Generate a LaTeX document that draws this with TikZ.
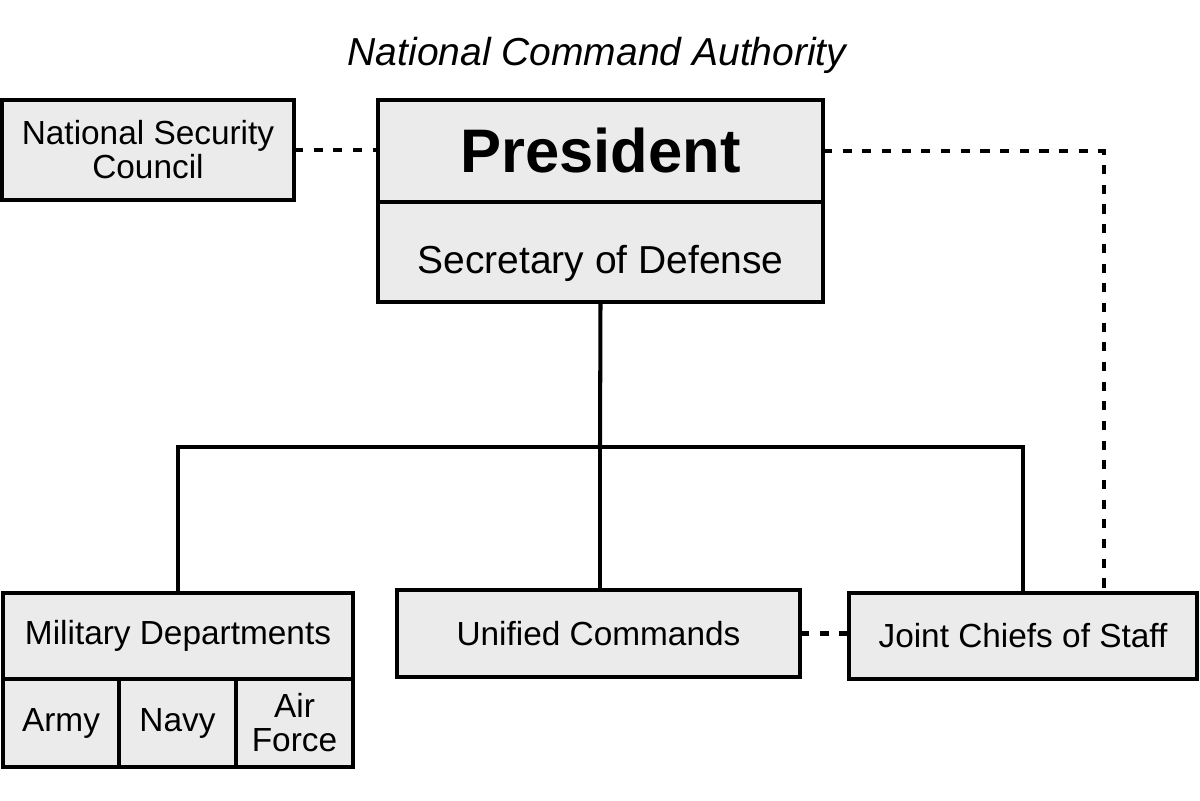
\documentclass[tikz,border=0pt]{standalone}
\usepackage{fontspec}
\setmainfont{Liberation Sans}
\usepackage{tikz}
\usetikzlibrary{positioning}
\definecolor{boxgray}{RGB}{235,235,235}
\tikzstyle{unit} = [
    rectangle,
    draw=black,
    line width=2.3pt,
    fill=boxgray,
    inner sep=0pt,
    outer sep=0pt,
    align=center,
    font=\fontsize{19}{19.3}\selectfont
]
\tikzstyle{link} = [
    line width=2.3pt,
    draw=black
]
\tikzstyle{advise} = [
    line width=2.7pt,
    draw=black,
    dash pattern=on 5.2pt off 6pt
]

\begin{document}
\begin{tikzpicture}[x=0.02cm, y=-0.02cm]
        \useasboundingbox (0,0) rectangle (1200,801);
        % Title
        \node[font=\fontsize{22.2}{24}\selectfont\itshape] (nca) at (597,55) {National Command Authority};

        % Top of the chain
        \node[unit, minimum width=8.9cm, minimum height=2.04cm, font=\fontsize{35}{36}\selectfont\bfseries] (president) at (600.5,151) {President};
        \node[unit, minimum width=8.9cm, minimum height=2cm, font=\fontsize{22.2}{24}\selectfont, text height=25pt, text depth=0pt, below=0pt of president] (secdef) {Secretary of Defense};
        \node[unit, minimum width=5.84cm, minimum height=2cm] (nsc) at (148,150) {National Security\\Council};

        % Bottom row
        \node[unit, minimum width=7cm, minimum height=1.72cm] (milit) at (178,636) {Military Departments};
        \node[unit, minimum width=2.32cm, minimum height=1.76cm, below right=0pt of milit.south west] (army) {Army};
        \node[unit, minimum width=2.34cm, minimum height=1.76cm, right=0pt of army] (navy) {Navy};
        \node[unit, minimum width=2.34cm, minimum height=1.76cm, right=0pt of navy] (airforce) {Air\\Force};
        \node[unit, minimum width=8.06cm, minimum height=1.74cm] (unified) at (598.5,633.5) {Unified Commands};
        \node[unit, minimum width=6.96cm, minimum height=1.72cm] (jcs) at (1023,636) {Joint Chiefs of Staff};

        % Chain of command
        \coordinate (hub) at (600,447);
        \draw[link] (secdef.south) -- (hub);
        \draw[link] (milit.north) |- (hub) -| (jcs.north);
        \draw[link] (hub) -- (hub |- unified.north);

        % Advisory links
        \draw[advise] (nsc.east) -- (nsc.east -| president.west);
        \draw[advise] (president.east) -| ([xshift=1.62cm]jcs.north);
        \draw[advise] (unified.east) -- (unified.east -| jcs.west);
    \end{tikzpicture}
\end{document}
